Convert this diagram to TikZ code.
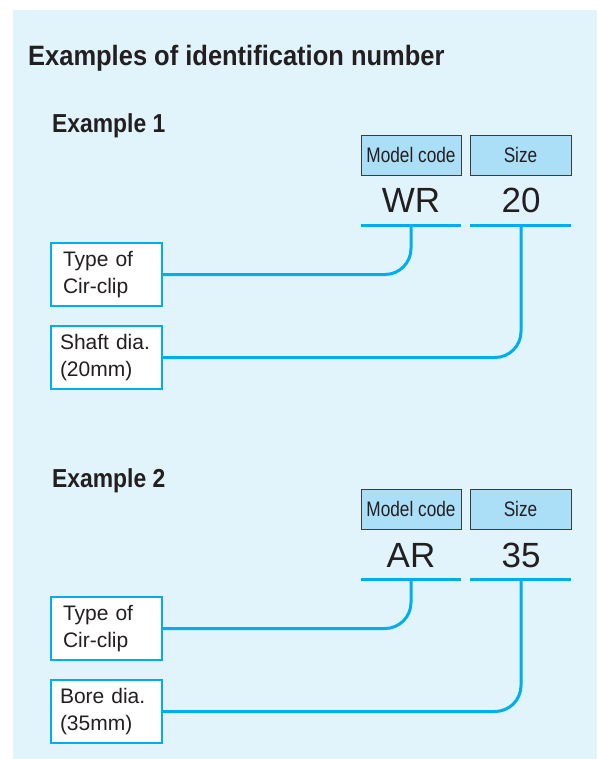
\documentclass[tikz,border=0pt]{standalone}
\usepackage{fontspec}
\setmainfont{Liberation Sans}
\newfontfamily\titlefont[FakeStretch=0.91]{Liberation Sans}
\newfontfamily\hdfont[FakeStretch=0.88]{Liberation Sans}
\newfontfamily\codefont[FakeStretch=0.82]{Liberation Sans}
\newfontfamily\labfont[FakeStretch=1.0]{Liberation Sans}
\definecolor{panel}{RGB}{225,244,252}
\definecolor{cyanline}{RGB}{0,174,239}
\definecolor{hdfill}{RGB}{171,223,248}
\definecolor{ink}{RGB}{35,31,32}
\definecolor{hdborder}{RGB}{60,60,60}
\tikzset{
  hdbox/.style={draw=hdborder, line width=0.9pt, fill=hdfill, text=ink,
    minimum height=40pt, inner sep=0pt, font=\codefont\fontsize{21}{21}\selectfont},
  codetxt/.style={anchor=base, text=ink, inner sep=0pt, font=\labfont\fontsize{35}{35}\selectfont},
  labbox/.style={draw=cyanline, line width=1.4pt, fill=white, text=ink,
    minimum height=63pt, text width=93pt, inner xsep=9pt, inner ysep=0pt, align=left,
    font=\labfont\fontsize{21}{27}\selectfont},
  typebox/.style={labbox, text width=87pt, inner xsep=12pt},
  uline/.style={draw=cyanline, line width=3pt},
  conn/.style={draw=cyanline, line width=3pt, rounded corners=26pt},
  heading/.style={anchor=base west, inner sep=0pt, text=ink},
}
\begin{document}
\begin{tikzpicture}[x=1pt,y=-1pt]
\useasboundingbox (0,0) rectangle (597,759);
\fill[panel] (13,10) rectangle (597,759);
\node[heading, font=\titlefont\bfseries\fontsize{28}{28}\selectfont] (title) at (28,66) {Examples of identification number};
% Example 1
\node[heading, font=\hdfont\bfseries\fontsize{26}{26}\selectfont] (ex1) at (52,133) {Example 1};
\node[hdbox, minimum width=100pt] (mc1) at (411,155) {Model code};
\node[hdbox, minimum width=101pt] (sz1) at (520.5,155) {Size};
\node[codetxt] (wr) at (411,213) {WR};
\node[codetxt] (n20) at (521,213) {20};
\coordinate (l1a) at (361,225); \coordinate (l1b) at (461,225);
\coordinate (l1c) at (470,225); \coordinate (l1d) at (571,225);
\draw[uline] (l1a) -- (l1b);
\draw[uline] (l1c) -- (l1d);
\coordinate (v1a) at (411,224); \coordinate (v1b) at (521,224);
\node[typebox] (type1) at (106.5,274.5) {Type of\\Cir-clip};
\node[labbox] (shaft1) at (106.5,357.5) {Shaft dia.\\(20mm)};
\draw[conn] (v1a) |- (type1.east);
\draw[conn] (v1b) |- (shaft1.east);
% Example 2
\node[heading, font=\hdfont\bfseries\fontsize{26}{26}\selectfont] (ex2) at (52,487) {Example 2};
\node[hdbox, minimum width=100pt] (mc2) at (411,509) {Model code};
\node[hdbox, minimum width=101pt] (sz2) at (520.5,509) {Size};
\node[codetxt] (ar) at (411,567) {AR};
\node[codetxt] (n35) at (521,567) {35};
\coordinate (l2a) at (361,579); \coordinate (l2b) at (461,579);
\coordinate (l2c) at (470,579); \coordinate (l2d) at (571,579);
\draw[uline] (l2a) -- (l2b);
\draw[uline] (l2c) -- (l2d);
\coordinate (v2a) at (411,578); \coordinate (v2b) at (521,578);
\node[typebox] (type2) at (106.5,628.5) {Type of\\Cir-clip};
\node[labbox] (bore2) at (106.5,711.5) {Bore dia.\\(35mm)};
\draw[conn] (v2a) |- (type2.east);
\draw[conn] (v2b) |- (bore2.east);
\end{tikzpicture}
\end{document}
